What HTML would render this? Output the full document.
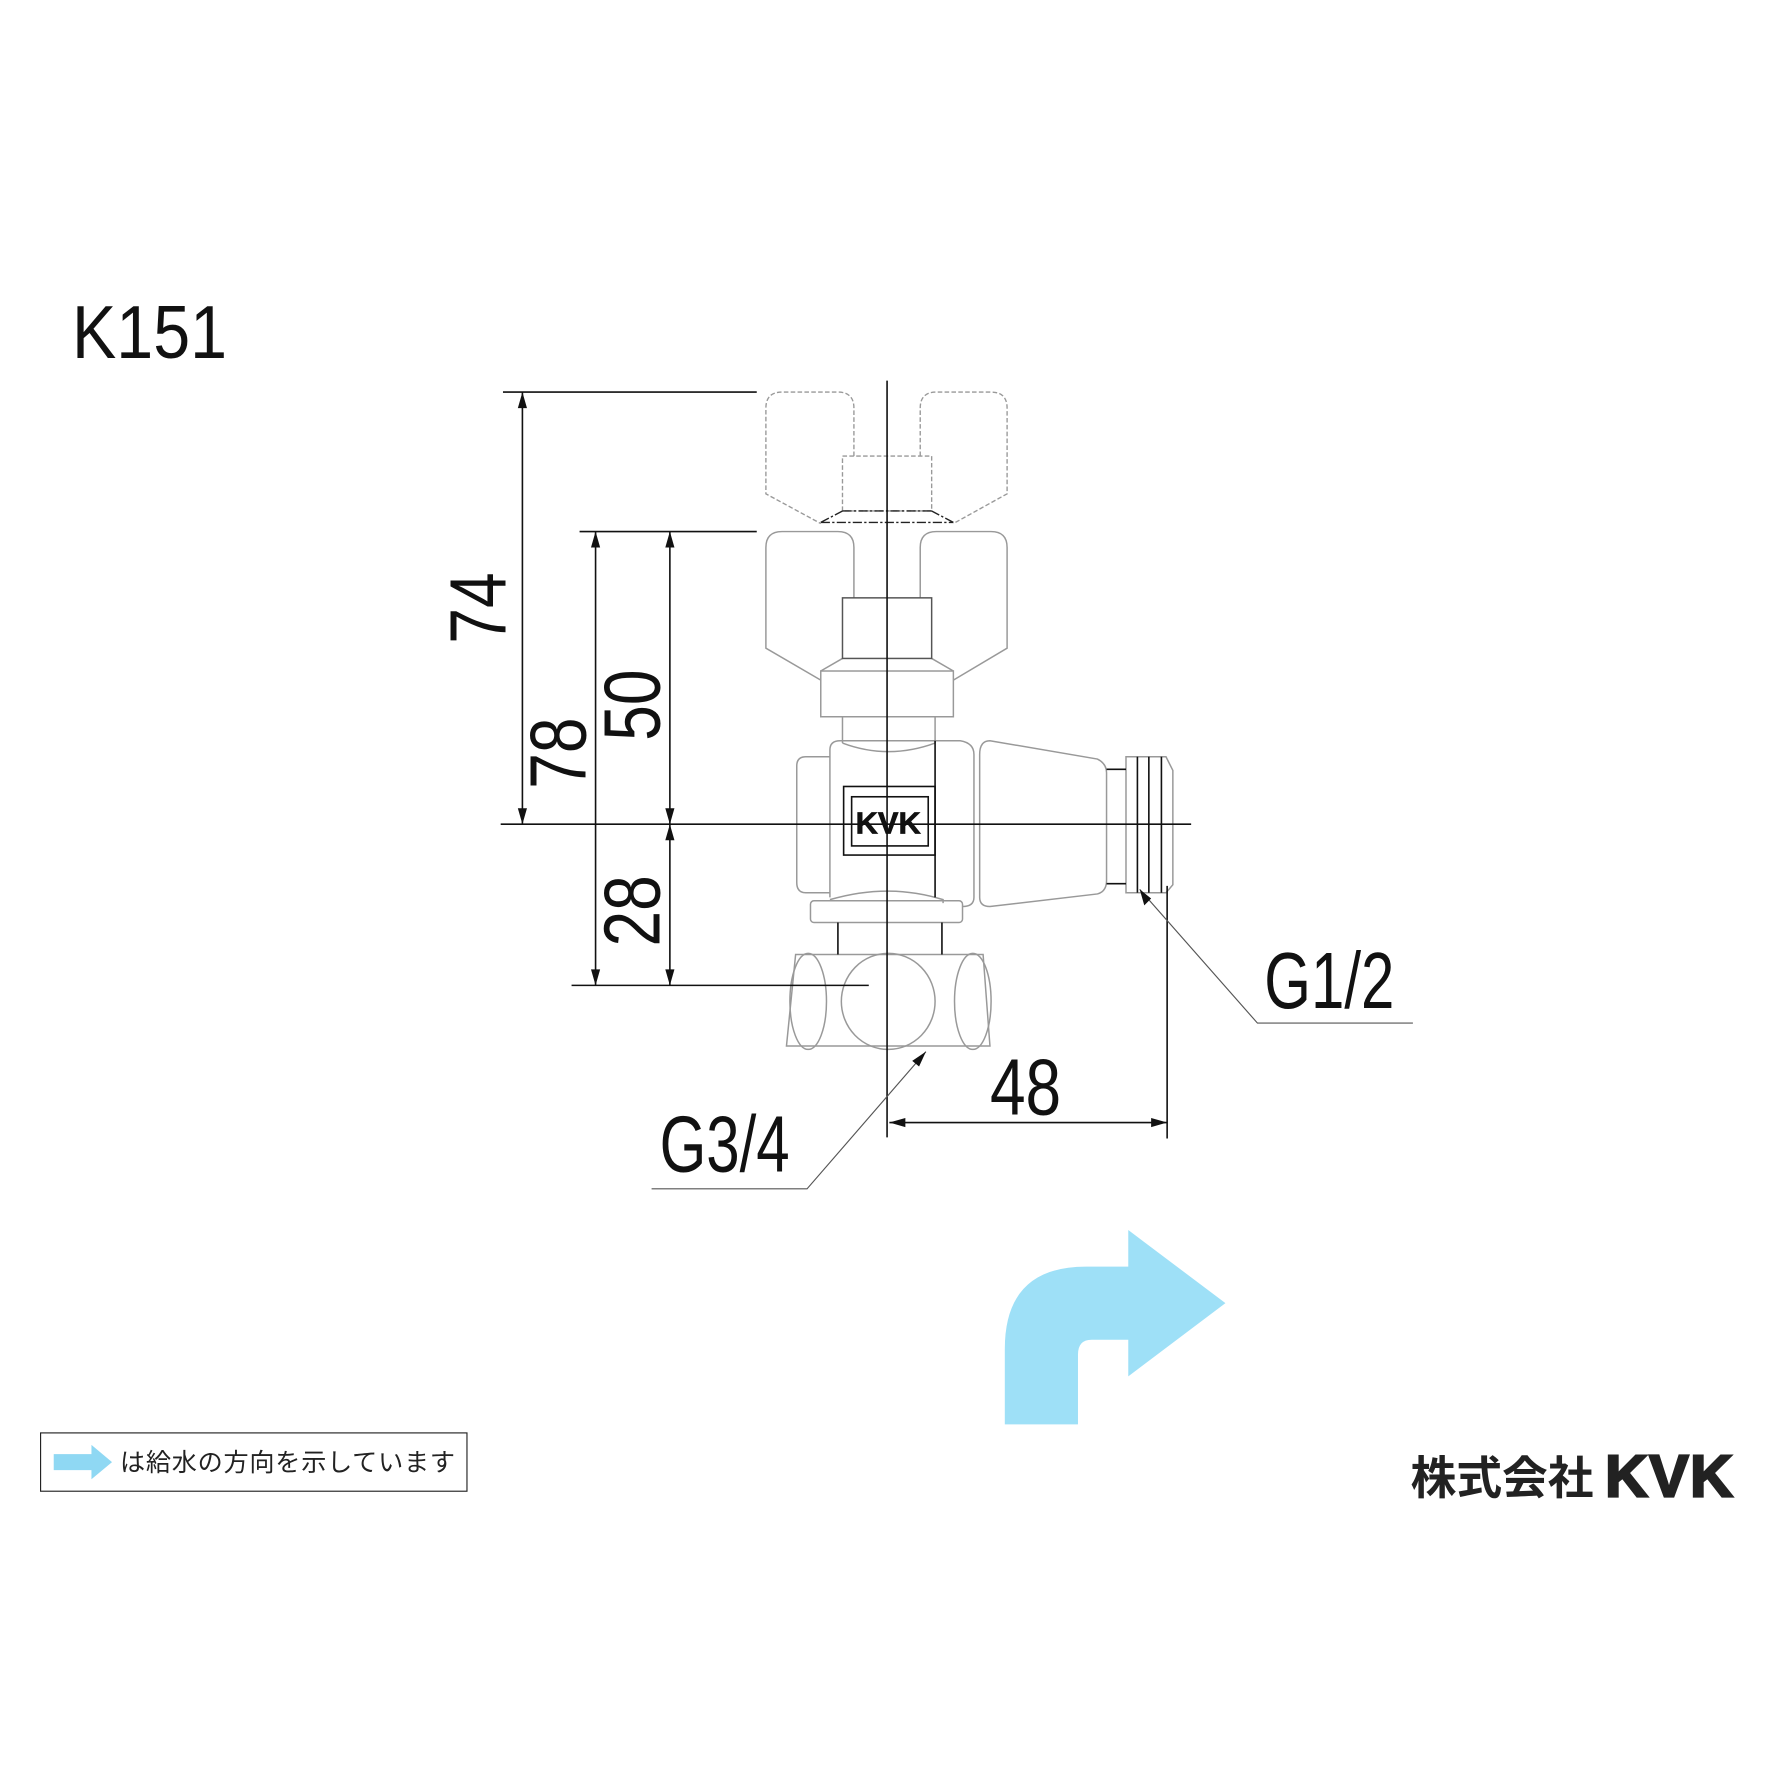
<!DOCTYPE html>
<html><head><meta charset="utf-8"><style>html,body{margin:0;padding:0;background:#fff}svg{display:block}</style></head>
<body>
<svg width="1789" height="1789" viewBox="0 0 1565 1565" xmlns="http://www.w3.org/2000/svg" font-family="Liberation Sans, sans-serif">
<rect width="1565" height="1565" fill="#fff"/>
<text x="63" y="313" font-size="66" transform="translate(63 0) scale(0.88 1) translate(-63 0)" fill="#111">K151</text>
<g fill="none" stroke="#999" stroke-width="1.2" stroke-dasharray="4 2">
<path d="M747 399 L747 357 Q747 343 733 343 L684 343 Q670 343 670 357 L670 432 L718 458"/>
<path d="M805 399 L805 357 Q805 343 819 343 L867 343 Q881 343 881 357 L881 432 L834 458"/>
<rect x="737" y="399" width="78" height="48"/>
</g>
<g stroke="#222" stroke-width="1.2" stroke-dasharray="8 2 2 2" fill="none">
<path d="M737 447 L815 447 M718 457 L834 457 M718 457 L737 447 M834 457 L815 447"/>
</g>
<g fill="none" stroke="#999" stroke-width="1.3">
<path d="M747 523 L747 479 Q747 465 733 465 L684 465 Q670 465 670 479 L670 567 L718 595"/>
<path d="M805 523 L805 479 Q805 465 819 465 L867 465 Q881 465 881 479 L881 567 L834 595"/>
<rect x="718" y="587" width="116" height="40"/>
<path d="M718 587 L737 576 M834 587 L815 576"/>
<path d="M737 627 L737 650 M818 627 L818 650"/>
<path d="M737 650 Q777 665 818 650"/>
<path d="M726 785 L726 656 Q726 648 735 648 L840 648 Q852 650 852 660 L852 785 Q852 793 842 793"/>
<path d="M726 662 L705 662 Q697 662 697 670 L697 772 Q697 781 705 781 L726 781"/>
<path d="M857 660 Q857 648 866 648 L960 664 Q968 668 968 676 L968 770 Q968 780 960 782 L866 793 Q857 793 857 785 Z"/>
<path d="M726 787 Q777 772 825 787 L825 790"/>
<rect x="709" y="788" width="133" height="19" rx="3"/>
<path d="M688 915 L696 835 L860 835 L866 915 Z"/>
<ellipse cx="707" cy="876" rx="16" ry="42"/>
<ellipse cx="777" cy="876" rx="41" ry="42"/>
<ellipse cx="851" cy="876" rx="16" ry="42"/>
<path d="M985 662 L1020 662 L1026 674 L1026 774 L1020 781 L985 781 Z"/>
</g>
<rect x="737" y="523" width="78" height="53" fill="none" stroke="#555" stroke-width="1.3"/>
<g fill="none" stroke="#111" stroke-width="1.4">
<path d="M818 648 L818 785"/>
<rect x="738" y="688" width="80" height="60"/>
<rect x="745" y="697" width="67" height="43"/>
<path d="M968 673 L985 673 M968 773 L985 773 M995 662 L995 781 M1005 662 L1005 781 M1016 662 L1016 781"/>
<path d="M733 807 L733 835 M824 807 L824 835"/>
<path d="M776 333 L776 995 M438 721 L1042 721"/>
<path d="M440 343 L662 343 M507 465 L662 465 M500 862 L760 862"/>
<path d="M457 343 L457 721 M521 465 L521 862 M586 465 L586 862"/>
<path d="M1021 775 L1021 996 M778 982 L1021 982"/>
</g>
<text x="777" y="729" font-size="27" font-weight="bold" text-anchor="middle" fill="#111" stroke="#111" stroke-width="0.6">KVK</text>
<g fill="#111">
<path d="M457 343 l-4 14 h8z M457 721 l-4 -14 h8z M521 465 l-4 14 h8z M521 862 l-4 -14 h8z M586 465 l-4 14 h8z M586 721 l-4 -14 h8z M586 721 l-4 14 h8z M586 862 l-4 -14 h8z M778 982 l14 -4 v8z M1021 982 l-14 -4 v8z"/>
</g>
<g stroke="#555" stroke-width="1" fill="none">
<path d="M997 778 L1100 895 L1236 895"/>
<path d="M810 920 L706 1040 L570 1040"/>
</g>
<path d="M997 778 l4 14 l6 -6z M810 920 l-12 8 l6 5z" fill="#111"/>
<g font-size="70" fill="#111">
<text transform="translate(442 563) rotate(-90) scale(0.8 1)">74</text>
<text transform="translate(512 690) rotate(-90) scale(0.8 1)">78</text>
<text transform="translate(577 648) rotate(-90) scale(0.8 1)">50</text>
<text transform="translate(577 828) rotate(-90) scale(0.8 1)">28</text>
<text transform="translate(866 975) scale(0.8 1)">48</text>
<text transform="translate(1106 882) scale(0.75 1)">G1/2</text>
<text transform="translate(577 1025) scale(0.75 1)">G3/4</text>
</g>
<path d="M879 1246 L879 1180 Q879 1108 950 1108 L987 1108 L987 1076 L1072 1140 L987 1204 L987 1172 L955 1172 Q943 1172 943 1185 L943 1246 Z" fill="#9ee0f7"/>
<rect x="35.5" y="1253.5" width="373" height="51" fill="none" stroke="#222" stroke-width="1"/>
<path d="M47 1272 L80 1272 L80 1264 L98 1279 L80 1294 L80 1286 L47 1286 Z" fill="#8fd8f3"/>
<text x="105" y="1287" font-size="22" fill="#222" textLength="293" font-family="Liberation Sans, Noto Sans CJK JP, sans-serif">は給水の方向を示しています</text>
<text x="1234" y="1307" font-size="40" font-weight="bold" fill="#222" font-family="Liberation Sans, Noto Sans CJK JP, sans-serif">株式会社</text>
<text x="1404" y="1309" font-size="52" font-weight="bold" fill="#222" textLength="112" stroke="#222" stroke-width="2">KVK</text>
</svg>
</body></html>
